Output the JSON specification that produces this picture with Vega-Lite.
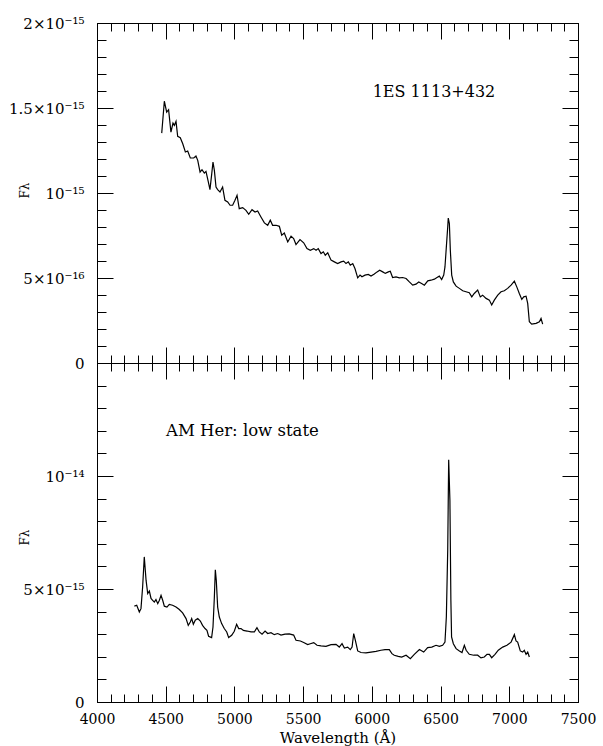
{
  "$schema": "https://vega.github.io/schema/vega-lite/v6.json",
  "autosize": {"type": "pad"},
  "padding": {"left": 8, "top": 15, "right": 5, "bottom": 0},
  "bounds": "flush",
  "spacing": 0,
  "background": "white",
  "config": {
    "font": "DejaVu Serif",
    "view": {"stroke": "black", "strokeWidth": 1},
    "axis": {
      "labelFont": "DejaVu Serif", "labelFontSize": 15, "labelColor": "black",
      "tickColor": "black", "tickWidth": 1, "domainColor": "black", "domainWidth": 1,
      "titleFont": "DejaVu Serif", "titleColor": "black", "titleFontWeight": "normal",
      "grid": false, "labelOverlap": false, "labelFlush": false
    }
  },
  "datasets": {
    "es": [
      {"wl":4471,"flux":1.352e-15},{"wl":4490,"flux":1.540e-15},{"wl":4507,"flux":1.476e-15},{"wl":4521,"flux":1.490e-15},
      {"wl":4538,"flux":1.358e-15},{"wl":4553,"flux":1.411e-15},{"wl":4563,"flux":1.398e-15},{"wl":4575,"flux":1.421e-15},
      {"wl":4587,"flux":1.333e-15},{"wl":4606,"flux":1.325e-15},{"wl":4624,"flux":1.290e-15},{"wl":4643,"flux":1.241e-15},
      {"wl":4660,"flux":1.247e-15},{"wl":4679,"flux":1.206e-15},{"wl":4704,"flux":1.206e-15},{"wl":4720,"flux":1.217e-15},
      {"wl":4733,"flux":1.192e-15},{"wl":4750,"flux":1.123e-15},{"wl":4764,"flux":1.137e-15},{"wl":4781,"flux":1.117e-15},
      {"wl":4793,"flux":1.127e-15},{"wl":4810,"flux":1.065e-15},{"wl":4822,"flux":1.020e-15},{"wl":4835,"flux":1.114e-15},
      {"wl":4844,"flux":1.182e-15},{"wl":4854,"flux":1.133e-15},{"wl":4866,"flux":1.035e-15},{"wl":4878,"flux":1.020e-15},
      {"wl":4895,"flux":1.006e-15},{"wl":4914,"flux":1.035e-15},{"wl":4931,"flux":0.957e-15},{"wl":4951,"flux":0.947e-15},
      {"wl":4968,"flux":0.928e-15},{"wl":4987,"flux":0.928e-15},{"wl":5004,"flux":0.957e-15},{"wl":5019,"flux":0.986e-15},
      {"wl":5035,"flux":0.908e-15},{"wl":5060,"flux":0.914e-15},{"wl":5084,"flux":0.898e-15},{"wl":5104,"flux":0.875e-15},
      {"wl":5128,"flux":0.902e-15},{"wl":5150,"flux":0.888e-15},{"wl":5169,"flux":0.894e-15},{"wl":5193,"flux":0.859e-15},
      {"wl":5218,"flux":0.824e-15},{"wl":5242,"flux":0.810e-15},{"wl":5261,"flux":0.840e-15},{"wl":5278,"flux":0.810e-15},
      {"wl":5303,"flux":0.810e-15},{"wl":5327,"flux":0.804e-15},{"wl":5344,"flux":0.752e-15},{"wl":5363,"flux":0.765e-15},
      {"wl":5388,"flux":0.712e-15},{"wl":5412,"flux":0.746e-15},{"wl":5431,"flux":0.732e-15},{"wl":5448,"flux":0.697e-15},
      {"wl":5477,"flux":0.726e-15},{"wl":5504,"flux":0.707e-15},{"wl":5528,"flux":0.673e-15},{"wl":5552,"flux":0.663e-15},
      {"wl":5577,"flux":0.673e-15},{"wl":5594,"flux":0.663e-15},{"wl":5610,"flux":0.673e-15},{"wl":5630,"flux":0.644e-15},
      {"wl":5647,"flux":0.654e-15},{"wl":5661,"flux":0.634e-15},{"wl":5679,"flux":0.648e-15},{"wl":5703,"flux":0.605e-15},
      {"wl":5727,"flux":0.595e-15},{"wl":5751,"flux":0.585e-15},{"wl":5776,"flux":0.595e-15},{"wl":5795,"flux":0.599e-15},
      {"wl":5812,"flux":0.585e-15},{"wl":5829,"flux":0.595e-15},{"wl":5843,"flux":0.575e-15},{"wl":5861,"flux":0.585e-15},
      {"wl":5877,"flux":0.556e-15},{"wl":5897,"flux":0.501e-15},{"wl":5914,"flux":0.517e-15},{"wl":5928,"flux":0.507e-15},
      {"wl":5950,"flux":0.517e-15},{"wl":5974,"flux":0.521e-15},{"wl":5994,"flux":0.511e-15},{"wl":6018,"flux":0.523e-15},
      {"wl":6038,"flux":0.536e-15},{"wl":6057,"flux":0.546e-15},{"wl":6079,"flux":0.536e-15},{"wl":6098,"flux":0.527e-15},
      {"wl":6120,"flux":0.536e-15},{"wl":6134,"flux":0.540e-15},{"wl":6151,"flux":0.503e-15},{"wl":6176,"flux":0.507e-15},
      {"wl":6200,"flux":0.501e-15},{"wl":6224,"flux":0.503e-15},{"wl":6249,"flux":0.497e-15},{"wl":6273,"flux":0.477e-15},
      {"wl":6297,"flux":0.458e-15},{"wl":6321,"flux":0.464e-15},{"wl":6341,"flux":0.477e-15},{"wl":6362,"flux":0.468e-15},
      {"wl":6382,"flux":0.458e-15},{"wl":6407,"flux":0.483e-15},{"wl":6430,"flux":0.487e-15},{"wl":6455,"flux":0.493e-15},
      {"wl":6474,"flux":0.503e-15},{"wl":6491,"flux":0.511e-15},{"wl":6508,"flux":0.491e-15},{"wl":6523,"flux":0.517e-15},
      {"wl":6532,"flux":0.565e-15},{"wl":6542,"flux":0.683e-15},{"wl":6552,"flux":0.800e-15},{"wl":6556,"flux":0.852e-15},
      {"wl":6564,"flux":0.820e-15},{"wl":6571,"flux":0.664e-15},{"wl":6581,"flux":0.517e-15},{"wl":6593,"flux":0.477e-15},
      {"wl":6613,"flux":0.452e-15},{"wl":6637,"flux":0.439e-15},{"wl":6661,"flux":0.425e-15},{"wl":6685,"flux":0.419e-15},
      {"wl":6709,"flux":0.413e-15},{"wl":6727,"flux":0.389e-15},{"wl":6745,"flux":0.409e-15},{"wl":6770,"flux":0.429e-15},
      {"wl":6789,"flux":0.389e-15},{"wl":6806,"flux":0.399e-15},{"wl":6831,"flux":0.380e-15},{"wl":6855,"flux":0.370e-15},
      {"wl":6872,"flux":0.341e-15},{"wl":6891,"flux":0.370e-15},{"wl":6916,"flux":0.399e-15},{"wl":6940,"flux":0.419e-15},
      {"wl":6964,"flux":0.425e-15},{"wl":6988,"flux":0.439e-15},{"wl":7013,"flux":0.458e-15},{"wl":7037,"flux":0.481e-15},
      {"wl":7056,"flux":0.445e-15},{"wl":7073,"flux":0.409e-15},{"wl":7091,"flux":0.374e-15},{"wl":7105,"flux":0.389e-15},
      {"wl":7122,"flux":0.393e-15},{"wl":7134,"flux":0.351e-15},{"wl":7146,"flux":0.243e-15},{"wl":7163,"flux":0.229e-15},
      {"wl":7195,"flux":0.233e-15},{"wl":7219,"flux":0.243e-15},{"wl":7231,"flux":0.262e-15},{"wl":7243,"flux":0.229e-15}
    ],
    "amher": [
      {"wl":4272,"flux":4.24e-15},{"wl":4289,"flux":4.28e-15},{"wl":4308,"flux":3.98e-15},{"wl":4320,"flux":4.13e-15},
      {"wl":4332,"flux":5.09e-15},{"wl":4344,"flux":6.42e-15},{"wl":4357,"flux":5.39e-15},{"wl":4369,"flux":4.80e-15},
      {"wl":4381,"flux":4.91e-15},{"wl":4393,"flux":4.58e-15},{"wl":4405,"flux":4.50e-15},{"wl":4417,"flux":4.42e-15},
      {"wl":4429,"flux":4.53e-15},{"wl":4442,"flux":4.35e-15},{"wl":4454,"flux":4.50e-15},{"wl":4466,"flux":4.72e-15},
      {"wl":4478,"flux":4.50e-15},{"wl":4490,"flux":4.24e-15},{"wl":4509,"flux":4.20e-15},{"wl":4526,"flux":4.32e-15},
      {"wl":4550,"flux":4.28e-15},{"wl":4575,"flux":4.20e-15},{"wl":4599,"flux":4.09e-15},{"wl":4623,"flux":3.94e-15},
      {"wl":4648,"flux":3.69e-15},{"wl":4664,"flux":3.39e-15},{"wl":4679,"flux":3.54e-15},{"wl":4689,"flux":3.69e-15},
      {"wl":4701,"flux":3.44e-15},{"wl":4715,"flux":3.62e-15},{"wl":4733,"flux":3.69e-15},{"wl":4752,"flux":3.58e-15},
      {"wl":4768,"flux":3.39e-15},{"wl":4786,"flux":3.25e-15},{"wl":4800,"flux":3.17e-15},{"wl":4812,"flux":2.91e-15},
      {"wl":4834,"flux":2.85e-15},{"wl":4844,"flux":3.32e-15},{"wl":4854,"flux":4.65e-15},{"wl":4861,"flux":5.85e-15},
      {"wl":4868,"flux":5.39e-15},{"wl":4878,"flux":4.20e-15},{"wl":4890,"flux":3.76e-15},{"wl":4907,"flux":3.47e-15},
      {"wl":4926,"flux":3.25e-15},{"wl":4944,"flux":3.10e-15},{"wl":4958,"flux":2.85e-15},{"wl":4980,"flux":2.95e-15},
      {"wl":4999,"flux":3.13e-15},{"wl":5016,"flux":3.44e-15},{"wl":5031,"flux":3.25e-15},{"wl":5048,"flux":3.25e-15},
      {"wl":5065,"flux":3.17e-15},{"wl":5092,"flux":3.14e-15},{"wl":5121,"flux":3.10e-15},{"wl":5145,"flux":3.10e-15},
      {"wl":5164,"flux":3.29e-15},{"wl":5181,"flux":3.10e-15},{"wl":5201,"flux":3.00e-15},{"wl":5223,"flux":3.14e-15},
      {"wl":5242,"flux":3.03e-15},{"wl":5266,"flux":3.07e-15},{"wl":5290,"flux":2.98e-15},{"wl":5315,"flux":3.03e-15},
      {"wl":5339,"flux":2.96e-15},{"wl":5368,"flux":3.00e-15},{"wl":5399,"flux":3.01e-15},{"wl":5431,"flux":2.96e-15},
      {"wl":5448,"flux":2.73e-15},{"wl":5480,"flux":2.70e-15},{"wl":5504,"flux":2.63e-15},{"wl":5533,"flux":2.54e-15},
      {"wl":5552,"flux":2.58e-15},{"wl":5577,"flux":2.63e-15},{"wl":5601,"flux":2.51e-15},{"wl":5630,"flux":2.48e-15},
      {"wl":5666,"flux":2.46e-15},{"wl":5703,"flux":2.54e-15},{"wl":5739,"flux":2.55e-15},{"wl":5763,"flux":2.43e-15},
      {"wl":5783,"flux":2.58e-15},{"wl":5800,"flux":2.39e-15},{"wl":5824,"flux":2.43e-15},{"wl":5843,"flux":2.32e-15},
      {"wl":5856,"flux":2.43e-15},{"wl":5868,"flux":3.03e-15},{"wl":5880,"flux":2.73e-15},{"wl":5897,"flux":2.26e-15},
      {"wl":5921,"flux":2.19e-15},{"wl":5957,"flux":2.17e-15},{"wl":5994,"flux":2.21e-15},{"wl":6030,"flux":2.24e-15},
      {"wl":6066,"flux":2.29e-15},{"wl":6096,"flux":2.32e-15},{"wl":6127,"flux":2.32e-15},{"wl":6146,"flux":2.14e-15},
      {"wl":6163,"flux":2.07e-15},{"wl":6192,"flux":2.02e-15},{"wl":6217,"flux":1.99e-15},{"wl":6249,"flux":2.07e-15},
      {"wl":6280,"flux":1.92e-15},{"wl":6309,"flux":2.11e-15},{"wl":6346,"flux":2.32e-15},{"wl":6377,"flux":2.21e-15},
      {"wl":6406,"flux":2.41e-15},{"wl":6436,"flux":2.43e-15},{"wl":6467,"flux":2.51e-15},{"wl":6491,"flux":2.46e-15},
      {"wl":6515,"flux":2.51e-15},{"wl":6532,"flux":2.65e-15},{"wl":6542,"flux":3.76e-15},{"wl":6552,"flux":6.71e-15},
      {"wl":6559,"flux":10.72e-15},{"wl":6568,"flux":8.92e-15},{"wl":6575,"flux":4.50e-15},{"wl":6580,"flux":2.88e-15},
      {"wl":6593,"flux":2.58e-15},{"wl":6613,"flux":2.36e-15},{"wl":6637,"flux":2.26e-15},{"wl":6656,"flux":2.19e-15},
      {"wl":6673,"flux":2.51e-15},{"wl":6686,"flux":2.29e-15},{"wl":6709,"flux":2.11e-15},{"wl":6741,"flux":2.07e-15},
      {"wl":6770,"flux":2.07e-15},{"wl":6794,"flux":1.95e-15},{"wl":6818,"flux":1.99e-15},{"wl":6838,"flux":2.11e-15},
      {"wl":6855,"flux":2.11e-15},{"wl":6872,"flux":1.96e-15},{"wl":6896,"flux":2.11e-15},{"wl":6920,"flux":2.29e-15},
      {"wl":6952,"flux":2.43e-15},{"wl":6983,"flux":2.51e-15},{"wl":7013,"flux":2.65e-15},{"wl":7037,"flux":2.98e-15},
      {"wl":7049,"flux":2.70e-15},{"wl":7061,"flux":2.65e-15},{"wl":7080,"flux":2.26e-15},{"wl":7097,"flux":2.21e-15},
      {"wl":7109,"flux":2.29e-15},{"wl":7122,"flux":2.11e-15},{"wl":7134,"flux":2.21e-15},{"wl":7146,"flux":1.99e-15}
    ],
    "labels_top": [{"wl": 6006, "flux": 1.564e-15, "label": "1ES 1113+432"}],
    "labels_bottom": [{"wl": 4502, "flux": 11.76e-15, "label": "AM Her: low state"}]
  },
  "vconcat": [
    {
      "width": 481, "height": 340,
      "layer": [
        {
          "data": {"name": "es"},
          "mark": {"type": "line", "color": "black", "strokeWidth": 1.2},
          "encoding": {
            "x": {"field": "wl", "type": "quantitative",
              "scale": {"domain": [4000, 7500], "nice": false, "zero": false},
              "axis": {"orient": "bottom", "title": null, "labels": false,
                "values": [4000,4100,4200,4300,4400,4500,4600,4700,4800,4900,5000,5100,5200,5300,5400,5500,5600,5700,5800,5900,6000,6100,6200,6300,6400,6500,6600,6700,6800,6900,7000,7100,7200,7300,7400,7500],
                "tickSize": {"condition": {"test": "datum.value % 500 === 0", "value": -16}, "value": -8}}},
            "y": {"field": "flux", "type": "quantitative",
              "scale": {"domain": [0, 2e-15], "nice": false, "zero": true},
              "axis": {"orient": "left", "title": "Fλ", "titleFontSize": 12, "titleAngle": 270,
                "titleX": -69, "titleY": 167, "titleAlign": "center", "titleBaseline": "alphabetic",
                "values": [0,1e-16,2e-16,3e-16,4e-16,5e-16,6e-16,7e-16,8e-16,9e-16,1e-15,1.1e-15,1.2e-15,1.3e-15,1.4e-15,1.5e-15,1.6e-15,1.7e-15,1.8e-15,1.9e-15,2e-15],
                "labelPadding": 29,
                "labelExpr": "round(datum.value*1e16)==0 ? '0' : round(datum.value*1e16)==5 ? '5×10⁻¹⁶' : round(datum.value*1e16)==10 ? '10⁻¹⁵' : round(datum.value*1e16)==15 ? '1.5×10⁻¹⁵' : round(datum.value*1e16)==20 ? '2×10⁻¹⁵' : ''",
                "tickSize": {"condition": {"test": "round(datum.value*1e16) % 5 === 0", "value": -16}, "value": -9}}}
          }
        },
        {
          "data": {"name": "labels_top"},
          "mark": {"type": "text", "align": "left", "baseline": "alphabetic", "font": "DejaVu Serif", "fontSize": 16, "color": "black"},
          "encoding": {
            "x": {"field": "wl", "type": "quantitative",
              "scale": {"domain": [4000, 7500], "nice": false, "zero": false},
              "axis": {"orient": "top", "title": null, "labels": false,
                "values": [4000,4100,4200,4300,4400,4500,4600,4700,4800,4900,5000,5100,5200,5300,5400,5500,5600,5700,5800,5900,6000,6100,6200,6300,6400,6500,6600,6700,6800,6900,7000,7100,7200,7300,7400,7500],
                "tickSize": {"condition": {"test": "datum.value % 500 === 0", "value": -16}, "value": -8}}},
            "y": {"field": "flux", "type": "quantitative",
              "scale": {"domain": [0, 2e-15], "nice": false, "zero": true},
              "axis": {"orient": "right", "title": null, "labels": false,
                "values": [0,1e-16,2e-16,3e-16,4e-16,5e-16,6e-16,7e-16,8e-16,9e-16,1e-15,1.1e-15,1.2e-15,1.3e-15,1.4e-15,1.5e-15,1.6e-15,1.7e-15,1.8e-15,1.9e-15,2e-15],
                "tickSize": {"condition": {"test": "round(datum.value*1e16) % 5 === 0", "value": -16}, "value": -9}}},
            "text": {"field": "label"}
          }
        }
      ],
      "resolve": {"axis": {"x": "independent", "y": "independent"}}
    },
    {
      "width": 481, "height": 339,
      "layer": [
        {
          "data": {"name": "amher"},
          "mark": {"type": "line", "color": "black", "strokeWidth": 1.2},
          "encoding": {
            "x": {"field": "wl", "type": "quantitative",
              "scale": {"domain": [4000, 7500], "nice": false, "zero": false},
              "axis": {"orient": "bottom", "title": "Wavelength (Å)", "titleFontSize": 15,
                "titleX": 240.5, "titleY": 40, "titleAlign": "center", "titleBaseline": "alphabetic",
                "values": [4000,4100,4200,4300,4400,4500,4600,4700,4800,4900,5000,5100,5200,5300,5400,5500,5600,5700,5800,5900,6000,6100,6200,6300,6400,6500,6600,6700,6800,6900,7000,7100,7200,7300,7400,7500],
                "labelPadding": 26, "labelFontSize": 14,
                "labelExpr": "datum.value % 500 === 0 ? format(datum.value, 'd') : ''",
                "tickSize": {"condition": {"test": "datum.value % 500 === 0", "value": -16}, "value": -8}}},
            "y": {"field": "flux", "type": "quantitative",
              "scale": {"domain": [0, 1.5e-14], "nice": false, "zero": true},
              "axis": {"orient": "left", "title": "Fλ", "titleFontSize": 12, "titleAngle": 270,
                "titleX": -69, "titleY": 174, "titleAlign": "center", "titleBaseline": "alphabetic",
                "values": [0,1e-15,2e-15,3e-15,4e-15,5e-15,6e-15,7e-15,8e-15,9e-15,1e-14,1.1e-14,1.2e-14,1.3e-14,1.4e-14,1.5e-14],
                "labelPadding": 29,
                "labelExpr": "round(datum.value*1e15)==0 ? '0' : round(datum.value*1e15)==5 ? '5×10⁻¹⁵' : round(datum.value*1e15)==10 ? '10⁻¹⁴' : ''",
                "tickSize": {"condition": {"test": "round(datum.value*1e15) % 5 === 0", "value": -16}, "value": -9}}}
          }
        },
        {
          "data": {"name": "labels_bottom"},
          "mark": {"type": "text", "align": "left", "baseline": "alphabetic", "font": "DejaVu Serif", "fontSize": 16.5, "color": "black"},
          "encoding": {
            "x": {"field": "wl", "type": "quantitative",
              "scale": {"domain": [4000, 7500], "nice": false, "zero": false},
              "axis": {"orient": "top", "title": null, "labels": false,
                "values": [4000,4100,4200,4300,4400,4500,4600,4700,4800,4900,5000,5100,5200,5300,5400,5500,5600,5700,5800,5900,6000,6100,6200,6300,6400,6500,6600,6700,6800,6900,7000,7100,7200,7300,7400,7500],
                "tickSize": {"condition": {"test": "datum.value % 500 === 0", "value": -16}, "value": -8}}},
            "y": {"field": "flux", "type": "quantitative",
              "scale": {"domain": [0, 1.5e-14], "nice": false, "zero": true},
              "axis": {"orient": "right", "title": null, "labels": false,
                "values": [0,1e-15,2e-15,3e-15,4e-15,5e-15,6e-15,7e-15,8e-15,9e-15,1e-14,1.1e-14,1.2e-14,1.3e-14,1.4e-14,1.5e-14],
                "tickSize": {"condition": {"test": "round(datum.value*1e15) % 5 === 0", "value": -16}, "value": -9}}},
            "text": {"field": "label"}
          }
        }
      ],
      "resolve": {"axis": {"x": "independent", "y": "independent"}}
    }
  ]
}
